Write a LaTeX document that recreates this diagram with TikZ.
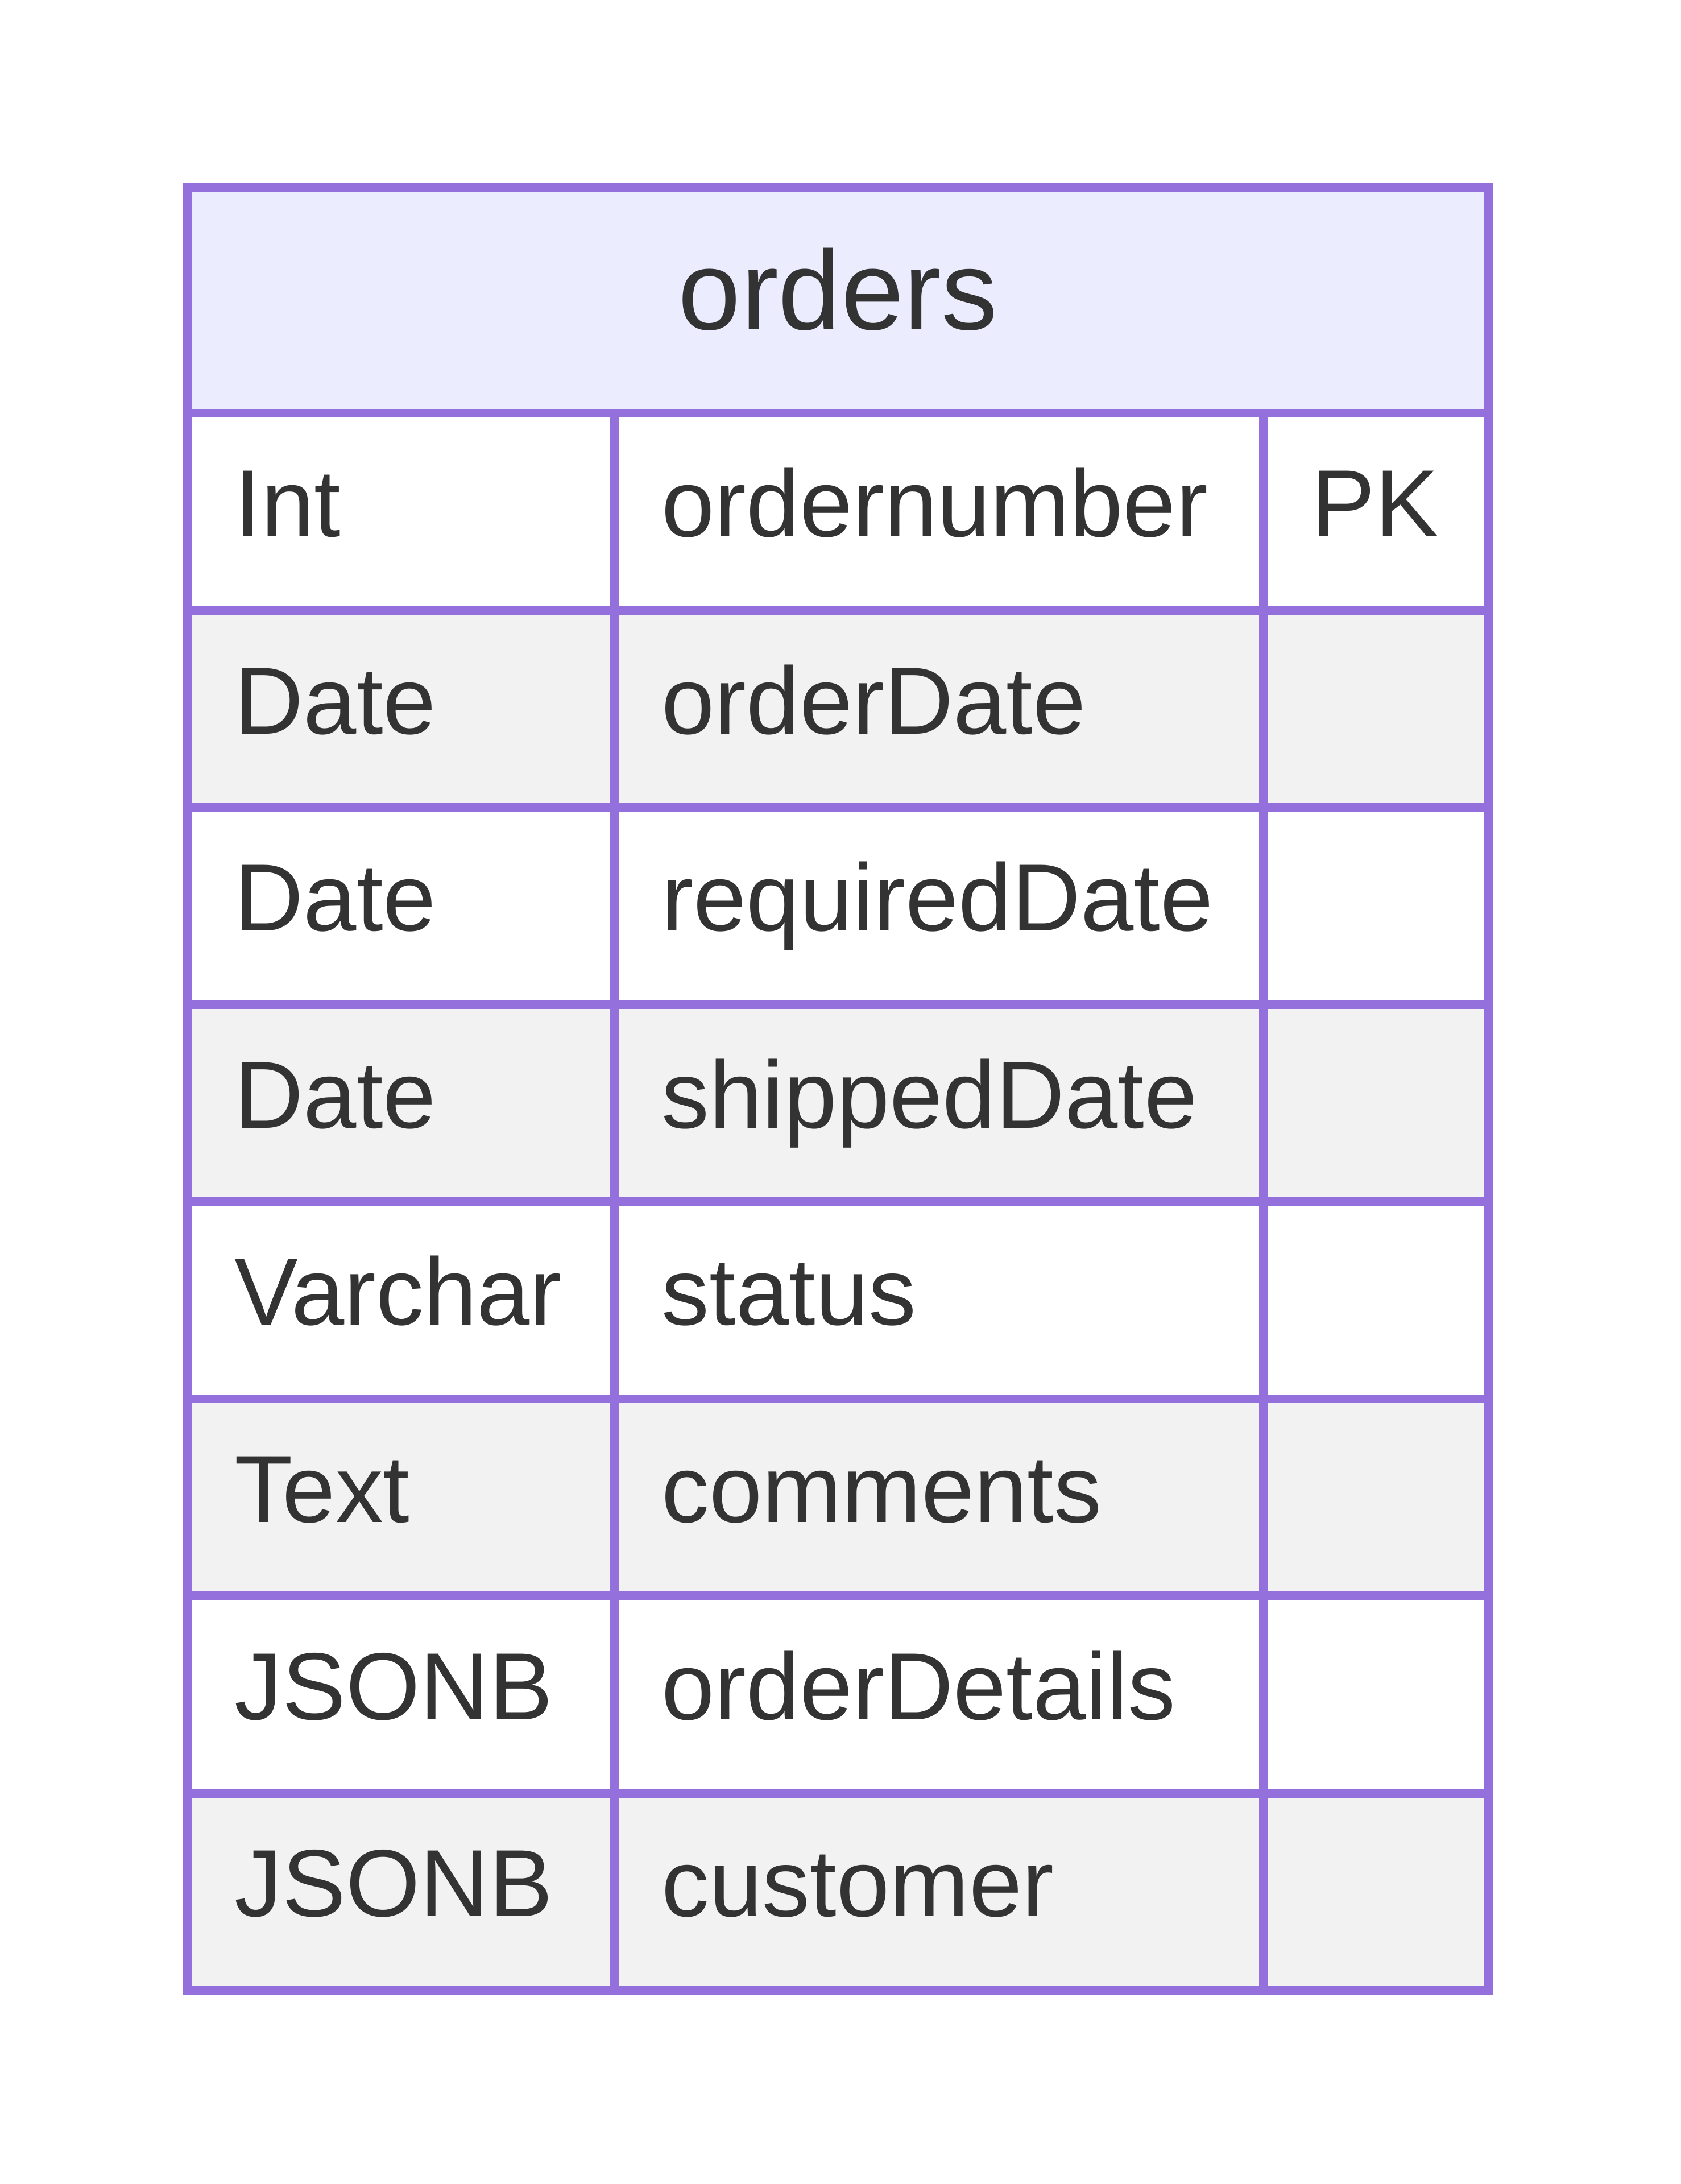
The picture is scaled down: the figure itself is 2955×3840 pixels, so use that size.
\documentclass[tikz,border=0pt]{standalone}
\usepackage{fontspec}
\setmainfont{Liberation Sans}
\usepackage{xcolor}

\definecolor{entityline}{HTML}{9370DB}
\definecolor{entityhead}{HTML}{ECECFF}
\definecolor{entityalt}{HTML}{F2F2F2}
\definecolor{entitytext}{HTML}{333333}

\begin{document}
\begin{tikzpicture}[x=0.01cm, y=-0.01cm,
    attr/.style={anchor=base west, inner sep=0pt, text=entitytext, font=\fontsize{47.7}{52}\selectfont},
    title/.style={anchor=base, inner sep=0pt, text=entitytext, font=\fontsize{56.3}{62}\selectfont},
    gridline/.style={draw=entityline, line width=4.5pt}]
    \useasboundingbox (0,0) rectangle (2955,3840);

    % Header
    \fill[entityhead] (330,330) rectangle (2617,726.5);
    \node[title] (orders) at (1473.5,580) {orders};

    % Attribute rows
    \foreach \i/\shade/\type/\field in {1/white/Int/ordernumber, 2/entityalt/Date/orderDate,
        3/white/Date/requiredDate, 4/entityalt/Date/shippedDate, 5/white/Varchar/status,
        6/entityalt/Text/comments, 7/white/JSONB/orderDetails, 8/entityalt/JSONB/customer} {
        \fill[\shade] (330,{726.5+(\i-1)*346.6}) rectangle (2617,{726.5+\i*346.6});
        \node[attr] (type\i) at (412,{726.5+(\i-1)*346.6+217}) {\type};
        \node[attr] (field\i) at (1163,{726.5+(\i-1)*346.6+217}) {\field};
    }
    \node[attr] (key1) at (2306,{726.5+217}) {PK};

    % Grid
    \foreach \i in {1,...,7}
        \draw[gridline] (330,{726.5+\i*346.6}) -- (2617,{726.5+\i*346.6});
    \draw[gridline] (330,726.5) -- (2617,726.5);
    \draw[gridline] (1080,726.5) -- (1080,3499);
    \draw[gridline] (2222,726.5) -- (2222,3499);
    \draw[gridline] (330,330) rectangle (2617,3499);
\end{tikzpicture}
\end{document}
